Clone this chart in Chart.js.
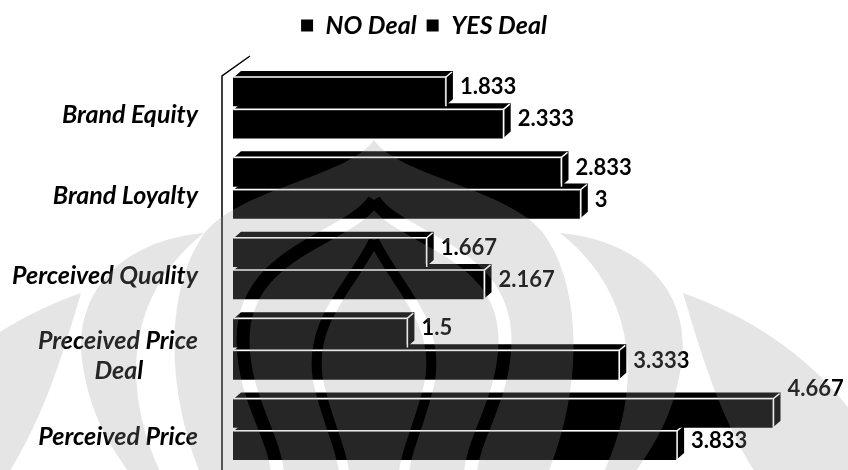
<!DOCTYPE html>
<html>
<head>
<meta charset="utf-8">
<script src="https://cdn.jsdelivr.net/npm/chart.js@4.4.0/dist/chart.umd.min.js"></script>
<style>
  html, body { margin: 0; padding: 0; background: #fff; }
  #wrap { width: 848px; height: 470px; }
</style>
</head>
<body>
<div id="wrap"><canvas id="chart"></canvas></div>
<script>
// Categories (top to bottom) and the two series
const categories = ['Brand Equity', 'Brand Loyalty', 'Perceived Quality', ['Preceived Price', 'Deal'], 'Perceived Price'];
const seriesNames = ['NO Deal', 'YES Deal'];
const noDeal = [1.833, 2.833, 1.667, 1.5, 4.667];
const yesDeal = [2.333, 3, 2.167, 3.333, 3.833];

const X_MAX = 5.32;      // value range of the (hidden) horizontal axis
const PLOT_LIMIT = 5;    // labels reaching past this value are lifted above their bar

const FONT = 'Lato';
const LABEL_SIZE = 25;
const VALUE_SIZE = 22;
const DX = 8;   // depth offset of the 3D faces (right)
const DY = 7;   // depth offset of the 3D faces (up)

// Centre the lines of a multi-line tick label by padding the shorter ones
const measureCtx = document.createElement('canvas').getContext('2d');
function centreLines(lines) {
  if (!Array.isArray(lines)) return lines;
  measureCtx.font = 'italic bold ' + LABEL_SIZE + 'px ' + FONT;
  const widths = lines.map(l => measureCtx.measureText(l).width);
  const maxW = Math.max(...widths);
  const sp = measureCtx.measureText(' ').width;
  return lines.map((l, i) => l + ' '.repeat(Math.round((maxW - widths[i]) / 2 / sp)));
}

// Faint emblem drawn over the whole chart
function buildEmblem(w, h) {
  const c = document.createElement('canvas');
  c.width = w; c.height = h;
  const g = c.getContext('2d');
  g.fillStyle = '#000';
  g.strokeStyle = '#000';
  // outer horns
  const horn = (m) => {
    const X = x => m ? 764 - x : x;
    g.beginPath();
    g.moveTo(X(683), 293);
    g.bezierCurveTo(X(760), 320, X(830), 370, X(870), 440);
    g.lineTo(X(870), 480);
    g.lineTo(X(760), 480);
    g.bezierCurveTo(X(720), 420, X(700), 350, X(683), 293);
    g.fill();
  };
  horn(false); horn(true);
  // inner horns
  const inner = (m) => {
    const X = x => m ? 764 - x : x;
    g.beginPath();
    g.moveTo(X(560), 233);
    g.bezierCurveTo(X(640), 240, X(690), 290, X(682), 360);
    g.bezierCurveTo(X(674), 420, X(650), 450, X(630), 480);
    g.lineTo(X(600), 480);
    g.bezierCurveTo(X(640), 400, X(645), 300, X(560), 233);
    g.fill();
  };
  inner(false); inner(true);
  // central dome
  g.beginPath();
  g.moveTo(374, 140);
  g.bezierCurveTo(400, 178, 520, 190, 548, 240);
  g.bezierCurveTo(585, 300, 580, 400, 545, 480);
  g.lineTo(203, 480);
  g.bezierCurveTo(168, 400, 163, 300, 200, 240);
  g.bezierCurveTo(228, 190, 348, 178, 374, 140);
  g.fill();
  // light bands inside the dome
  g.globalCompositeOperation = 'destination-out';
  g.lineWidth = 13;
  g.beginPath();
  g.moveTo(374, 200);
  g.bezierCurveTo(400, 240, 505, 250, 505, 340);
  g.bezierCurveTo(505, 400, 470, 440, 470, 480);
  g.moveTo(374, 200);
  g.bezierCurveTo(348, 240, 243, 250, 243, 340);
  g.bezierCurveTo(243, 400, 278, 440, 278, 480);
  g.stroke();
  g.lineWidth = 10;
  g.beginPath();
  g.moveTo(374, 240);
  g.bezierCurveTo(395, 285, 440, 320, 430, 380);
  g.bezierCurveTo(422, 420, 405, 450, 403, 480);
  g.moveTo(374, 240);
  g.bezierCurveTo(353, 285, 308, 320, 318, 380);
  g.bezierCurveTo(326, 420, 343, 450, 345, 480);
  g.stroke();
  g.globalCompositeOperation = 'source-over';
  return c;
}

// Back wall edge on the left of the bars
const wallPlugin = {
  id: 'wall',
  beforeDatasetsDraw(chart) {
    const { ctx, chartArea: a } = chart;
    ctx.save();
    ctx.strokeStyle = '#000';
    ctx.lineWidth = 1.5;
    ctx.beginPath();
    ctx.moveTo(a.left - 11, a.bottom);
    ctx.lineTo(a.left - 11, a.top + 8);
    ctx.lineTo(a.left + 17, a.top - 12);
    ctx.stroke();
    ctx.restore();
  }
};

// Top and side faces give each bar its depth
const depthPlugin = {
  id: 'depth',
  afterDatasetDraw(chart, args) {
    const ctx = chart.ctx;
    ctx.save();
    args.meta.data.forEach(bar => {
      const { x, y, base, height } = bar.getProps(['x', 'y', 'base', 'height'], true);
      const top = y - height / 2, bot = y + height / 2;
      ctx.fillStyle = '#000';
      ctx.beginPath();
      ctx.moveTo(base, top);
      ctx.lineTo(base + DX, top - DY);
      ctx.lineTo(x + DX, top - DY);
      ctx.lineTo(x + DX, bot - DY);
      ctx.lineTo(x, bot);
      ctx.lineTo(x, top);
      ctx.closePath();
      ctx.fill();
      ctx.strokeStyle = '#fff';
      ctx.lineWidth = 1.5;
      ctx.beginPath();
      ctx.moveTo(base + 1, top - 1);
      ctx.lineTo(x + 1, top - 1);
      ctx.lineTo(x + DX - 1, top - DY + 1);
      ctx.moveTo(x + 1, top - 1);
      ctx.lineTo(x + 1, bot);
      ctx.stroke();
    });
    ctx.restore();
  }
};

// Value labels just past the end of each bar
const valuePlugin = {
  id: 'values',
  afterDatasetsDraw(chart) {
    const ctx = chart.ctx;
    const limit = chart.scales.x.getPixelForValue(PLOT_LIMIT) + 30;
    ctx.save();
    ctx.font = 'bold ' + VALUE_SIZE + 'px ' + FONT;
    ctx.fillStyle = '#000';
    ctx.textBaseline = 'middle';
    ctx.textAlign = 'left';
    chart.data.datasets.forEach((ds, di) => {
      chart.getDatasetMeta(di).data.forEach((bar, i) => {
        const txt = String(ds.data[i]);
        const w = ctx.measureText(txt).width;
        const tx = bar.x + 15;
        let ty = bar.y - 5;
        if (tx + w > limit) ty -= 20;
        ctx.fillText(txt, tx, ty);
      });
    });
    ctx.restore();
  }
};

// Emblem laid over everything with low opacity
let emblem = null;
const emblemPlugin = {
  id: 'emblem',
  afterDraw(chart) {
    if (!emblem) emblem = buildEmblem(chart.width, chart.height);
    const tmp = document.createElement('canvas');
    tmp.width = chart.width; tmp.height = chart.height;
    const t = tmp.getContext('2d');
    t.drawImage(emblem, 0, 0);
    t.globalCompositeOperation = 'source-in';
    t.fillStyle = 'rgba(153,153,153,0.25)';
    t.fillRect(0, 0, tmp.width, tmp.height);
    chart.ctx.drawImage(tmp, 0, 0);
  }
};

const labelFont = { family: FONT, size: LABEL_SIZE, style: 'italic', weight: 'bold', lineHeight: 1.2 };

new Chart(document.getElementById('chart'), {
  type: 'bar',
  data: {
    labels: categories,
    datasets: [
      { label: seriesNames[0], data: noDeal, backgroundColor: '#000', borderWidth: 0 },
      { label: seriesNames[1], data: yesDeal, backgroundColor: '#000', borderWidth: 0 }
    ]
  },
  options: {
    indexAxis: 'y',
    responsive: true,
    maintainAspectRatio: false,
    animation: false,
    categoryPercentage: 0.8,
    barPercentage: 0.88,
    layout: { padding: { top: 3, right: 0, bottom: 0, left: 0 } },
    scales: {
      x: {
        position: 'top',
        min: 0, max: X_MAX,
        grid: { display: false },
        border: { display: false },
        ticks: { display: false },
        afterFit(s) { s.height = 20; }
      },
      y: {
        grid: { display: false, drawTicks: false },
        border: { display: false },
        ticks: {
          color: '#000',
          padding: 35,
          labelOffset: 7,
          font: labelFont,
          callback(v) { return centreLines(this.getLabelForValue(v)); }
        },
        afterFit(s) {
          s.width = 233;
          s.paddingTop = 0;
          s.paddingBottom = 0;
        }
      }
    },
    plugins: {
      legend: {
        position: 'top',
        labels: {
          color: '#000',
          boxWidth: 12,
          boxHeight: 12,
          padding: 10,
          font: { family: FONT, size: LABEL_SIZE, style: 'italic', weight: 'bold' }
        }
      },
      tooltip: { enabled: false }
    }
  },
  plugins: [wallPlugin, depthPlugin, valuePlugin, emblemPlugin]
});
</script>
</body>
</html>
